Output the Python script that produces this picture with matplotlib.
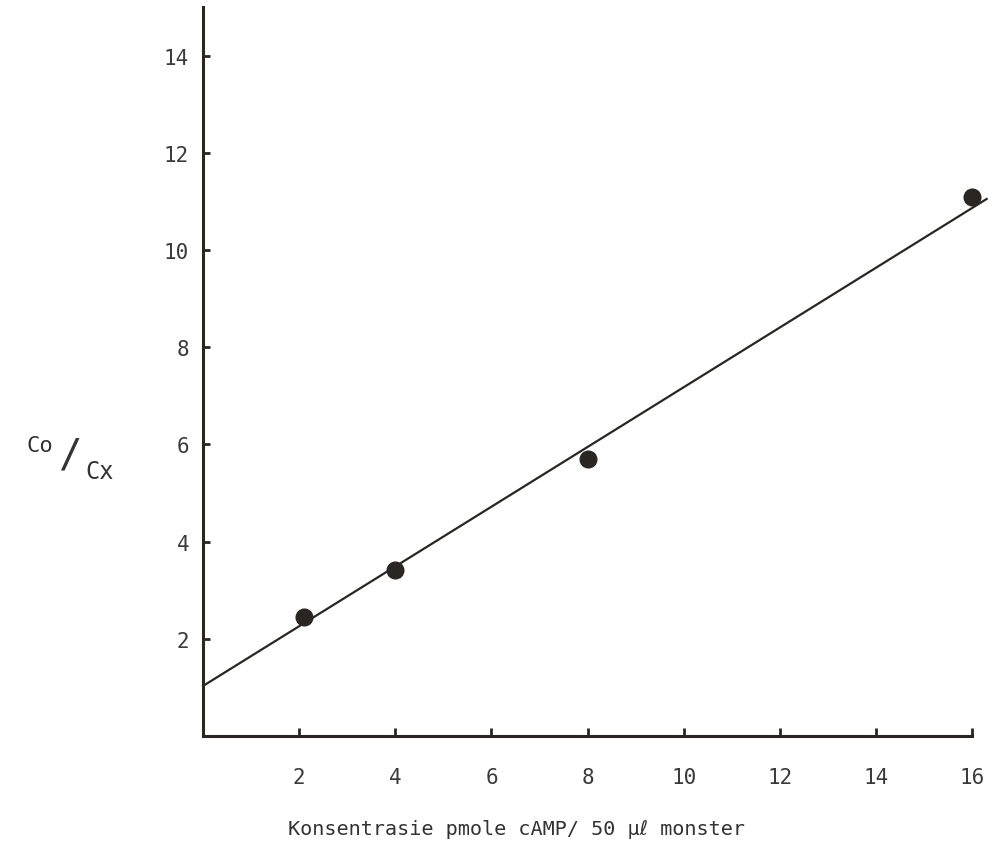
import matplotlib
matplotlib.use("Agg")
import matplotlib.pyplot as plt

plt.rcParams['font.family'] = ['DejaVu Sans Mono', 'DejaVu Sans']

# measured points: concentration vs Co/Cx
conc = [2.1, 4.0, 8.0, 16.0]
ratio = [2.45, 3.42, 5.7, 11.1]

# fitted straight line, drawn past the last tick
fit_x = [0.0, 16.3]
fit_y = [1.03, 11.05]

xticks = [2, 4, 6, 8, 10, 12, 14, 16]
yticks = [2, 4, 6, 8, 10, 12, 14]

ink = '#2a2624'

fig = plt.figure(figsize=(9.89, 8.45), dpi=100)
ax = fig.add_axes([0.2053, 0.1278, 0.983 - 0.2053, 0.9905 - 0.1278])

ax.plot(fit_x, fit_y, color=ink, lw=1.6, clip_on=False, zorder=2)
ax.plot(conc, ratio, 'o', color=ink, ms=12, clip_on=False, zorder=3)

ax.set_xlim(0, 16)
ax.set_ylim(0, 15)

for side in ['top', 'right']:
    ax.spines[side].set_visible(False)
for side in ['left', 'bottom']:
    ax.spines[side].set_linewidth(2.2)
    ax.spines[side].set_color(ink)

ax.set_xticks(xticks)
ax.set_yticks(yticks)
ax.tick_params(axis='x', direction='in', length=6, width=2, color=ink,
               labelsize=15, labelcolor='#3a3a3a', pad=22)
ax.tick_params(axis='y', direction='in', length=5, width=2, color=ink,
               labelsize=15, labelcolor='#3a3a3a', pad=10)

fig.text(517 / 989, 1 - 830 / 845, 'Konsentrasie pmole cAMP/ 50 μℓ monster',
         ha='center', va='center', fontsize=14.5, color='#333333')

# Co/Cx label with raised and lowered parts
fig.text(40 / 989, 1 - 446 / 845, 'Co', ha='center', va='center',
         fontsize=16, color='#333333')
fig.text(70 / 989, 1 - 456 / 845, '/', ha='center', va='center',
         fontsize=28, color='#333333')
fig.text(100 / 989, 1 - 472 / 845, 'Cx', ha='center', va='center',
         fontsize=17, color='#333333')

fig.savefig('out.png', dpi=100, facecolor='white')
